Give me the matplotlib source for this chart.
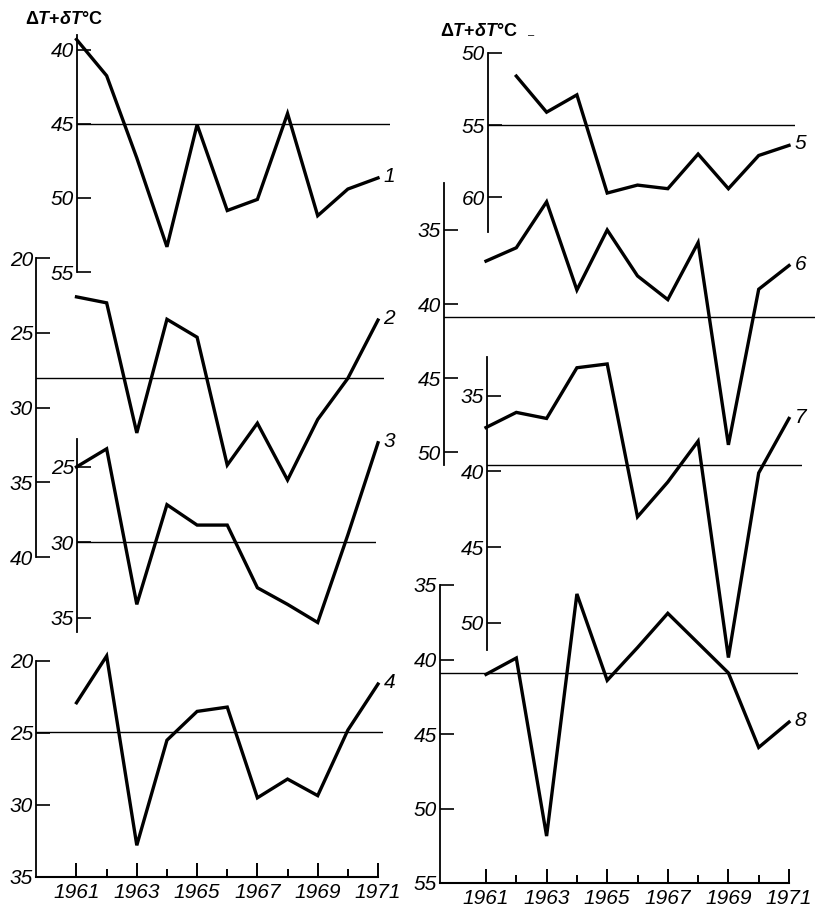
import matplotlib
matplotlib.use("Agg")
import matplotlib.pyplot as plt
import numpy as np

plt.rcParams['font.family'] = ['Liberation Sans', 'DejaVu Sans']
plt.rcParams['mathtext.fontset'] = 'custom'
plt.rcParams['mathtext.rm'] = 'Liberation Sans:bold'
plt.rcParams['mathtext.it'] = 'Liberation Sans:italic:bold'
plt.rcParams['mathtext.bf'] = 'Liberation Sans:bold'

years = np.arange(1961, 1972)
curve1 = [39.3, 41.75, 47.3, 53.3, 45.05, 50.85, 50.1, 44.3, 51.2, 49.4, 48.65]
curve2 = [22.6, 23.0, 31.7, 24.1, 25.3, 33.85, 31.05, 34.85, 30.8, 28.05, 24.15]
curve3 = [25.0, 23.8, 34.1, 27.5, 28.85, 28.85, 33.0, 34.1, 35.3, 29.5, 23.4]
curve4 = [22.9, 19.65, 32.8, 25.5, 23.5, 23.2, 29.5, 28.2, 29.35, 24.8, 21.6]
curve5 = [np.nan, 51.6, 54.1, 52.9, 59.7, 59.15, 59.4, 57.0, 59.4, 57.1, 56.4]
curve6 = [37.1, 36.2, 33.1, 39.05, 35.0, 38.1, 39.7, 35.85, 49.5, 39.0, 37.4]
curve7 = [37.1, 36.1, 36.5, 33.15, 32.9, 43.0, 40.7, 38.0, 52.3, 40.1, 36.5]
curve8 = [41.0, 39.9, 51.85, 35.6, 41.4, 39.2, 36.9, 38.9, 40.9, 45.9, 44.2]
curves = [curve1, curve2, curve3, curve4, curve5, curve6, curve7, curve8]
curve_names = ['1', '2', '3', '4', '5', '6', '7', '8']
means = [45.0, 28.0, 30.0, 24.9, 55.0, 40.9, 39.6, 40.9]
yticks = [[40, 45, 50, 55], [20, 25, 30, 35, 40], [25, 30, 35], [20, 25, 30, 35],
          [50, 55, 60], [35, 40, 45, 50], [35, 40, 45, 50], [35, 40, 45, 50, 55]]
axis_title = r'$\Delta T{+}\delta T$°C'

# canvas in pixels
W, H = 815, 910
# each curve: spine x, right end, spine top, spine bottom (px), values at top / bottom
frames = [
    (77, 390, 35, 272, 39.0, 55.0),
    (36, 384, 258, 557, 20.0, 40.0),
    (77, 376, 439, 632, 23.15, 35.93),
    (36, 383, 661, 877, 20.0, 35.0),
    (488, 795, 53, 232, 50.0, 62.4),
    (444, 815, 183, 465, 31.83, 50.86),
    (487, 802, 357, 650, 32.44, 51.8),
    (440, 798, 585, 883, 35.0, 55.0),
]
# pixel x of 1961 and 1971 in the left and right columns
year_span = [(76.5, 378.0)] * 4 + [(486.0, 789.0)] * 4
with_years = [False, False, False, True, False, False, False, True]

fig = plt.figure(figsize=(W / 100, H / 100), dpi=100)

for i, curve in enumerate(curves):
    x0, x1, yt, yb, vt, vb = frames[i]
    p61, p71 = year_span[i]
    to_year = lambda px: 1961 + (px - p61) * 10.0 / (p71 - p61)
    ax = fig.add_axes([x0 / W, 1 - yb / H, (x1 - x0) / W, (yb - yt) / H])
    ax.patch.set_visible(False)
    ax.set_xlim(to_year(x0), to_year(x1))
    ax.set_ylim(vb, vt)

    ax.plot(years, curve, color='black', lw=2.4, clip_on=False,
            solid_joinstyle='miter')
    ax.axhline(means[i], color='black', lw=1.0)

    ax.annotate(curve_names[i], (years[-1], curve[-1]), xytext=(4, 1),
                textcoords='offset points', ha='left', va='center',
                fontsize=15, fontstyle='italic', annotation_clip=False)

    for side in ['top', 'right']:
        ax.spines[side].set_visible(False)
    ax.spines['left'].set_linewidth(1.3)
    ax.set_yticks(yticks[i])
    ax.tick_params(axis='y', direction='in', length=10, width=1.2,
                   pad=2, labelsize=15)
    for lbl in ax.get_yticklabels():
        lbl.set_fontstyle('italic')

    if with_years[i]:
        ax.spines['bottom'].set_linewidth(1.5)
        ax.spines['bottom'].set_bounds(to_year(x0), 1971)
        ax.set_xticks(range(1961, 1972, 2))
        ax.set_xticks(range(1962, 1971, 2), minor=True)
        ax.tick_params(axis='x', which='major', direction='in', length=10,
                       width=1.4, pad=4, labelsize=15)
        ax.tick_params(axis='x', which='minor', direction='in', length=6,
                       width=1.4)
        for lbl in ax.get_xticklabels():
            lbl.set_fontstyle('italic')
    else:
        ax.spines['bottom'].set_visible(False)
        ax.set_xticks([])

fig.text(25 / W, 1 - 20 / H, axis_title, fontsize=13, fontweight='bold',
         ha='left', va='center')
fig.text(440 / W, 1 - 32 / H, axis_title, fontsize=13, fontweight='bold',
         ha='left', va='center')
fig.text(528 / W, 1 - 35 / H, '–', fontsize=8, ha='left', va='center')

fig.savefig('out.png', dpi=100)
